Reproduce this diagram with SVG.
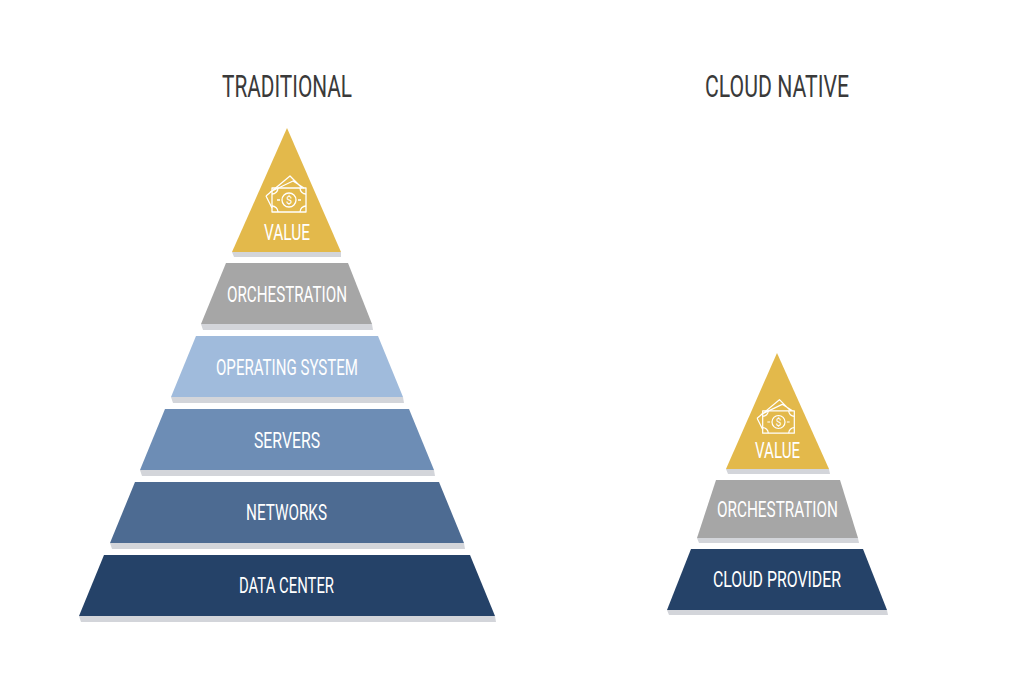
<svg xmlns="http://www.w3.org/2000/svg" width="1024" height="698" viewBox="0 0 1024 698">
<defs>
<style>
text{font-family:"Roboto","Liberation Sans",sans-serif;text-anchor:start}
.l{fill:#fff;font-size:22px}
.t{fill:#3a3a3a;font-size:32px}
.s{fill:#d3d5da}
.i{fill:none;stroke:#fff;stroke-width:1.3;stroke-linejoin:round}
</style>
<g id="money">
<path class="i" d="M-23 -4L1 -24L13 -12M-23 -4L-17 8M-19 -8L4 -19L15 -12"/>
<rect class="i" x="-17" y="-12" width="34" height="24"/>
<path class="i" d="M-17 -6A6 6 0 0 0 -11 -12M11 -12A6 6 0 0 0 17 -6M17 6A6 6 0 0 0 11 12M-11 12A6 6 0 0 0 -17 6"/>
<circle class="i" cx="0" cy="0" r="7"/>
<text x="0" y="4" style="font-size:11px;fill:#fff;text-anchor:middle">$</text>
<path class="i" d="M-12 0H-9M9 0H12"/>
</g>
</defs>
<rect width="1024" height="698" fill="#fff"/>
<text class="t" x="222" y="97" textLength="130" lengthAdjust="spacingAndGlyphs">TRADITIONAL</text>
<text class="t" x="705" y="97" textLength="144" lengthAdjust="spacingAndGlyphs">CLOUD NATIVE</text>
<g id="traditional-value">
<path class="s" d="M232 252H341L341 257H234Z"/>
<path d="M287 128L341 252H232Z" fill="#e3b94b"/>
<use href="#money" x="289" y="200"/>
<text class="l" x="264" y="240" textLength="46" lengthAdjust="spacingAndGlyphs">VALUE</text>
</g>
<g id="traditional-orchestration">
<path class="s" d="M201 324H372L373 330H203Z"/>
<path d="M226 263H348L372 324H201Z" fill="#a6a6a6"/>
<text class="l" x="227" y="302" textLength="120" lengthAdjust="spacingAndGlyphs">ORCHESTRATION</text>
</g>
<g id="traditional-os">
<path class="s" d="M171 397H403L404 403H173Z"/>
<path d="M196 336H378L403 397H171Z" fill="#a0bbdc"/>
<text class="l" x="216" y="375" textLength="142" lengthAdjust="spacingAndGlyphs">OPERATING SYSTEM</text>
</g>
<g id="traditional-servers">
<path class="s" d="M140 470H434L435 476H142Z"/>
<path d="M165 409H409L434 470H140Z" fill="#6d8db5"/>
<text class="l" x="254" y="448" textLength="66" lengthAdjust="spacingAndGlyphs">SERVERS</text>
</g>
<g id="traditional-networks">
<path class="s" d="M110 543H464L465 549H112Z"/>
<path d="M135 482H439L464 543H110Z" fill="#4d6b92"/>
<text class="l" x="246" y="520" textLength="81" lengthAdjust="spacingAndGlyphs">NETWORKS</text>
</g>
<g id="traditional-data-center">
<path class="s" d="M79 616H495L496 622H81Z"/>
<path d="M104 555H470L495 616H79Z" fill="#254268"/>
<text class="l" x="239" y="593" textLength="95" lengthAdjust="spacingAndGlyphs">DATA CENTER</text>
</g>
<g id="cloud-value">
<path class="s" d="M726 469H829L830 474H728Z"/>
<path d="M777 353L829 469H726Z" fill="#e3b94b"/>
<use href="#money" transform="translate(778.500,422) scale(.93)"/>
<text class="l" x="755" y="458" textLength="45" lengthAdjust="spacingAndGlyphs">VALUE</text>
</g>
<g id="cloud-orchestration">
<path class="s" d="M697 538H858L859 543H699Z"/>
<path d="M716 480H840L858 538H697Z" fill="#a6a6a6"/>
<text class="l" x="717" y="517" textLength="121" lengthAdjust="spacingAndGlyphs">ORCHESTRATION</text>
</g>
<g id="cloud-provider">
<path class="s" d="M667 610H887L888 615H669Z"/>
<path d="M691 549H863L887 610H667Z" fill="#254268"/>
<text class="l" x="713" y="587" textLength="128" lengthAdjust="spacingAndGlyphs">CLOUD PROVIDER</text>
</g>
<g id="connectors"/>
</svg>
